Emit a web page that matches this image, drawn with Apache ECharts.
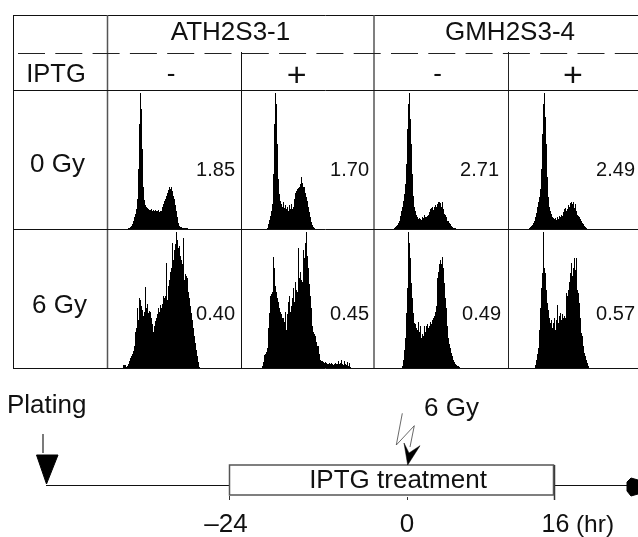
<!DOCTYPE html>
<html><head><meta charset="utf-8">
<style>html,body{margin:0;padding:0;background:#fff}#c{width:638px;height:537px}</style>
<script src="https://cdn.jsdelivr.net/npm/echarts@6/dist/echarts.min.js"></script>
</head><body><div id="c"></div>
<script>
// Histogram heights, one value per DNA-content channel
const ath0Minus=[1,1,2,3,5,8,12,15,20,30,60,105,136,120,80,42,29,24,22,21,20,19,19,20,18,19,18,19,18,18,19,17,18,18,22,25,28,30,33,36,39,42,40,42,38,33,30,24,18,12,6,3,2,2,1,1,1,1,1,1,0];
const ath0Plus=[1,5,9,13,18,25,55,105,136,125,85,50,35,28,25,22,27,21,24,20,22,18,24,20,25,20,22,30,36,38,40,41,42,45,52,46,42,42,36,32,28,22,17,12,7,4,2,1];
const gmh0Minus=[1,2,3,4,6,8,13,18,22,28,35,45,65,100,125,136,110,85,55,33,22,18,14,12,10,11,10,9,12,11,14,12,12,13,14,17,20,21,22,19,22,24,22,25,27,27,26,22,27,20,15,14,12,8,8,6,5,3,2,1,1,1];
const gmh0Plus=[1,2,3,4,6,8,12,16,22,27,32,40,60,95,125,136,112,85,52,32,22,18,15,12,11,10,11,9,12,10,13,12,14,13,17,20,21,18,20,24,22,26,27,25,27,21,25,18,14,13,12,10,8,6,5,3,2,1];
const ath6Minus=[3,3,3,1,2,4,7,10,12,14,17,22,36,40,60,48,70,68,62,58,52,56,81,60,64,55,57,56,50,44,36,42,47,50,54,60,56,63,60,64,72,70,72,105,68,82,88,96,100,125,108,118,124,136,128,120,122,112,108,104,130,88,94,92,90,76,70,62,55,48,40,32,25,18,12,6,1];
const ath6Plus=[2,6,13,14,16,20,40,55,72,74,76,111,100,82,76,70,66,60,56,54,50,50,46,56,38,54,66,72,56,62,70,80,66,86,78,76,120,90,96,88,86,118,110,125,136,112,100,84,72,60,42,36,34,32,26,22,22,14,8,7,7,6,5,6,5,4,4,5,4,5,4,3,4,5,4,4,7,4,5,8,4,3,7,4,3,6,2,5,1];
const gmh6Minus=[2,8,18,30,55,80,136,125,110,85,70,55,45,44,40,38,46,36,42,30,34,32,42,36,42,44,40,42,46,44,48,50,52,56,62,90,96,104,108,104,111,100,85,70,60,42,30,24,20,15,12,8,6,4,3,2,2,1];
const gmh6Plus=[3,8,14,20,38,60,80,95,136,100,95,78,65,58,50,45,48,40,45,50,38,48,63,45,52,55,48,54,50,52,50,75,72,78,86,95,105,92,100,110,98,110,78,75,65,50,35,32,22,15,12,8,5,2];
// Channel at which each histogram's first value sits
const offsets={ath0Minus:21,ath0Plus:26,gmh0Minus:20,gmh0Plus:21,ath6Minus:16,ath6Plus:21,gmh6Minus:28,gmh6Plus:27};

const strains=['ATH2S3-1','GMH2S3-4'];
const iptg=['-','+','-','+'];
const doses=['0 Gy','6 Gy'];
const ratios0=['1.85','1.70','2.71','2.49'];
const ratios6=['0.40','0.45','0.49','0.57'];
const timeLabels=['–24','0','16'];

const panels=[
 [ath0Minus,'ath0Minus',107,90,134],[ath0Plus,'ath0Plus',241,90,133],[gmh0Minus,'gmh0Minus',374,90,134],[gmh0Plus,'gmh0Plus',508,90,130],
 [ath6Minus,'ath6Minus',107,229,134],[ath6Plus,'ath6Plus',241,229,133],[gmh6Minus,'gmh6Minus',374,229,134],[gmh6Plus,'gmh6Plus',508,229,130]];
const grid=[],xAxis=[],yAxis=[],series=[];
panels.forEach(([vals,name,x,y,w],i)=>{
  const channels=Array.from({length:w},(_,k)=>k);
  grid.push({left:x,top:y,width:w,height:139});
  xAxis.push({type:'category',gridIndex:i,data:channels,show:false,boundaryGap:true});
  yAxis.push({type:'value',gridIndex:i,min:0,max:139,show:false});
  const full=channels.map(()=>null);
  vals.forEach((v,k)=>{full[offsets[name]+k]=v;});
  series.push({type:'bar',name,xAxisIndex:i,yAxisIndex:i,data:full,barWidth:'100%',barGap:0,silent:true,animation:false,
    itemStyle:{color:'#000'},clip:false});
});

const FONT='"Liberation Sans",Arial,Helvetica,sans-serif';
// text placed by its baseline
const T=(x,y,text,size,align='center')=>({type:'text',z:20,x,y:y-Math.round(size*0.77),silent:true,style:{text,fill:'#111',font:`${size}px ${FONT}`,align,verticalAlign:'top'}});
const L=(x1,y1,x2,y2,c='#111',w=1,dash)=>({type:'line',z:10,silent:true,shape:{x1,y1,x2,y2},style:{stroke:c,lineWidth:w,lineDash:dash}});
const P=(pts,fill,stroke,w=1)=>({type:'polygon',z:12,silent:true,shape:{points:pts},style:{fill:fill,stroke:stroke,lineWidth:w}});
const g=[
 L(13,15.5,638,15.5),L(13.5,15,13.5,368.5),
 L(107.5,15,107.5,368.5,'#555',1.5),L(374,15,374,368.5,'#555',1.5),
 L(241.5,52,241.5,368.5),L(508.5,52,508.5,368.5,'#222'),
 L(13,90.5,638,90.5),L(13,229.5,638,229.5),L(13,368.5,638,368.5),
 L(18,53.5,638,53.5,'#222',1,[27,10.3]),
 T(230.5,40,strains[0],26),T(510,40,strains[1],26),
 T(56,82,'IPTG',25.5),
 T(171,82,iptg[0],26),T(437.5,82,iptg[2],26),T(296.7,86,iptg[1],34),T(573,86,iptg[3],34),
 T(57.5,172,doses[0],26),T(59.5,313,doses[1],26),
 T(235,175,ratios0[0],20,'right'),T(369,175,ratios0[1],20,'right'),T(499,175,ratios0[2],20,'right'),T(635,175,ratios0[3],20,'right'),
 T(235,319,ratios6[0],20,'right'),T(369,319,ratios6[1],20,'right'),T(501,319,ratios6[2],20,'right'),T(635,319,ratios6[3],20,'right'),
 // timeline
 T(7,413,'Plating',26,'left'),T(424,416,'6 Gy',26,'left'),
 L(43,434,43,453,'#222',1.2),
 P([[36.5,455],[58,455],[46.5,484]],'#000','#000'),
 L(46,485.5,229,485.5,'#111',1.2),L(555,485.5,627,485.5,'#111',1.2),
 P([[627,482],[631,478],[638,480],[638,494],[631,496],[627,491]],'#000','#000'),
 {type:'rect',z:11,silent:true,shape:{x:229.5,y:465,width:324,height:30},style:{fill:'#fff',stroke:'#555',lineWidth:1.5}},
 L(229.5,496,229.5,500,'#333'),L(407.5,497,407.5,500,'#333'),L(554.5,465,554.5,500,'#333',1.5),
 T(398,488,'IPTG treatment',26),
 T(226,532,timeLabels[0],26),T(407,532,timeLabels[1],26),T(555.5,532,timeLabels[2],25),T(595,532,'(hr)',24.5),
 {type:'polyline',z:12,silent:true,shape:{points:[[402.3,413.3],[396.3,445],[414.3,425.7],[410,447]]},style:{fill:'none',stroke:'#444',lineWidth:0.8}},
 P([[404,443],[407.7,465],[420,445.7],[409,453]],'#000','#000',0.5)
];
const chart=echarts.init(document.getElementById('c'),null,{renderer:'canvas'});
chart.setOption({animation:false,backgroundColor:'#fff',grid,xAxis,yAxis,series,graphic:{elements:g}});
</script></body></html>
